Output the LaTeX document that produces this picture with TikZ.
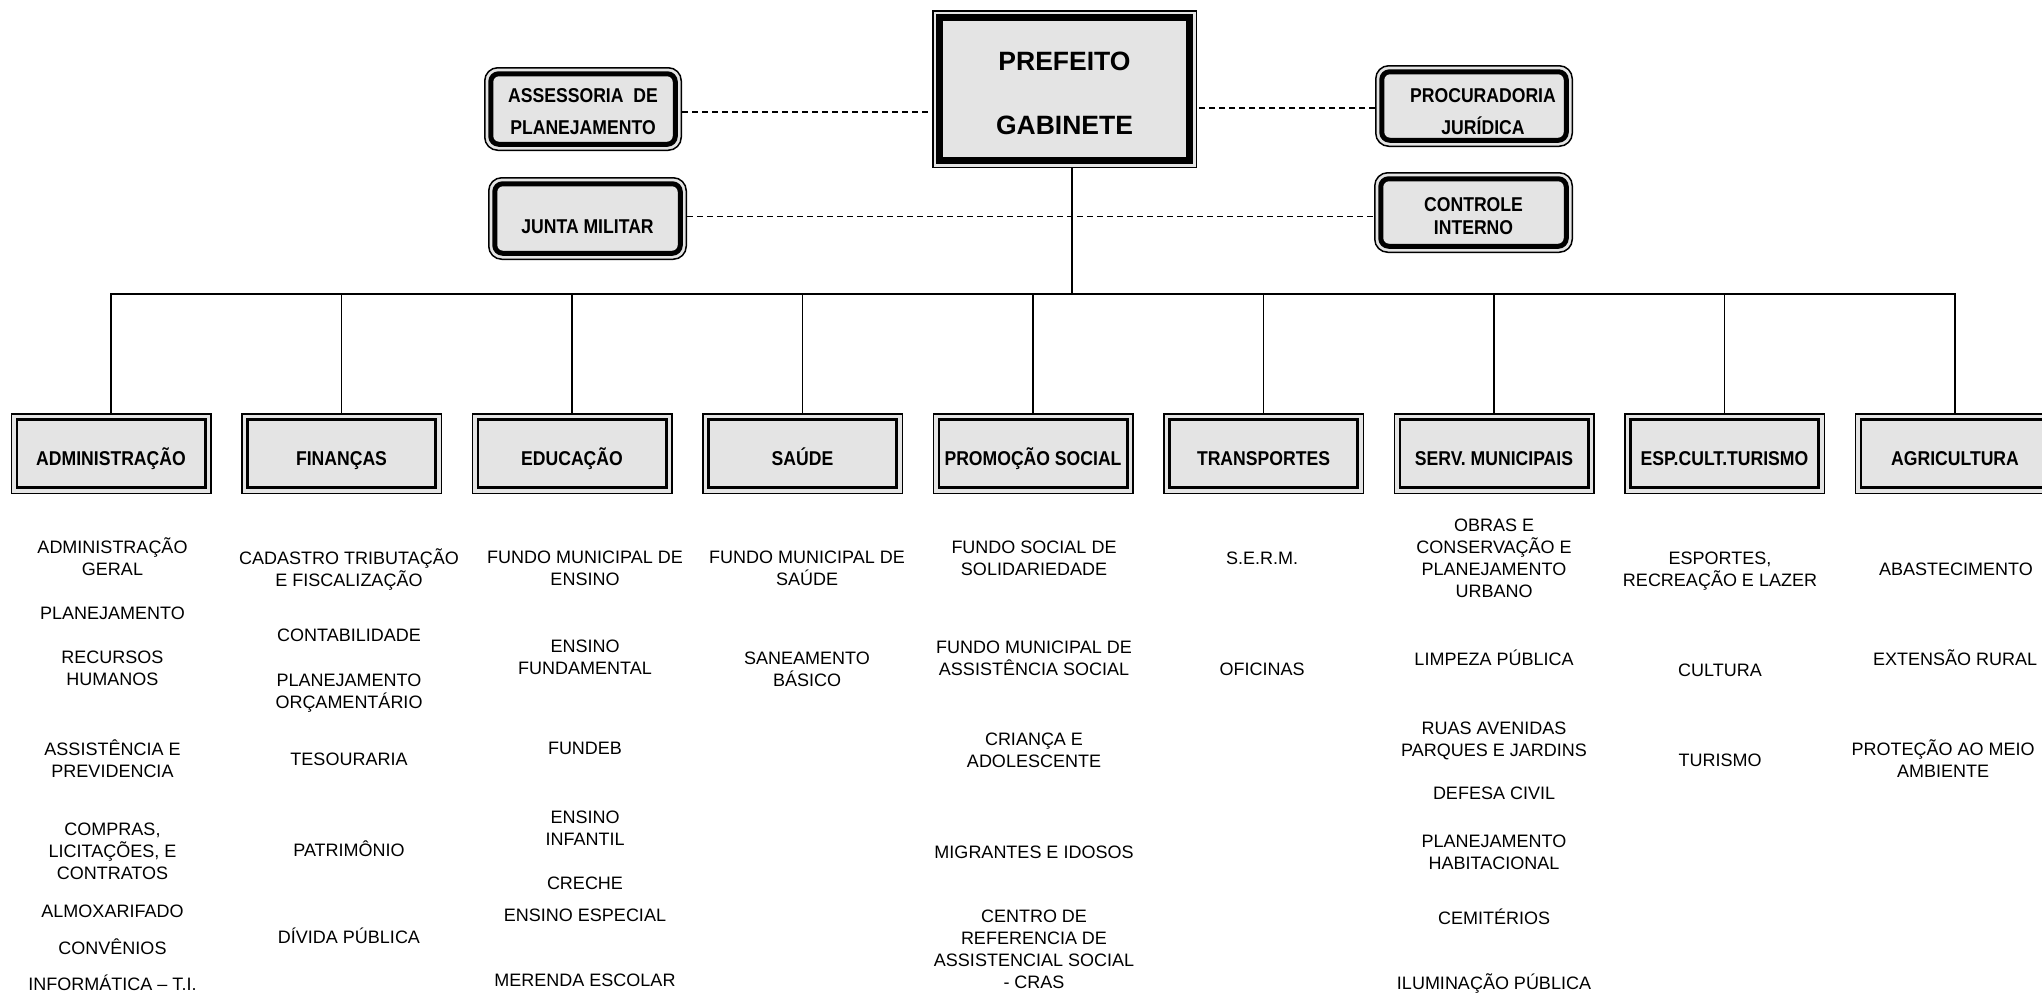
\documentclass[tikz,border=0pt]{standalone}
\usepackage{fontspec}
\setmainfont{Liberation Sans}
\newfontfamily\tfont[FakeStretch=0.88]{Liberation Sans}
\usetikzlibrary{calc}
\definecolor{boxgray}{RGB}{228,228,228}
\lineskiplimit=-1000pt
\newcommand\st[2]{\rule[-#2pt]{0pt}{\dimexpr#1pt+#2pt\relax}}
\newcommand\sI{\st{19}{6.1}}
\newcommand\sD{\st{28}{4.7}}
\begin{document}
\begin{tikzpicture}[x=1pt,y=-1pt,
  conn/.style={line width=1.8pt},
  dsh/.style={line width=1.2pt, dash pattern=on 6pt off 4pt},
  deptbox/.style={draw, line width=1.5pt, fill=boxgray, minimum width=199.5pt,
    minimum height=79.5pt, inner sep=0pt,
    font={\tfont\bfseries\fontsize{20}{24}\selectfont},
    path picture={\draw[line width=2.7pt]
      ([shift={(5.6pt,5.6pt)}]path picture bounding box.south west) rectangle
      ([shift={(-5.6pt,-5.6pt)}]path picture bounding box.north east);}},
  rbox/.style={draw, line width=1.5pt, fill=boxgray, rounded corners=13pt,
    inner sep=0pt, align=center,
    path picture={\draw[line width=5pt, rounded corners=8pt]
      ([shift={(6pt,6pt)}]path picture bounding box.south west) rectangle
      ([shift={(-6pt,-6pt)}]path picture bounding box.north east);}},
  pbox/.style={draw, line width=1.5pt, fill=boxgray, inner sep=0pt, align=center,
    minimum width=263.5pt, minimum height=156.5pt,
    font={\bfseries\fontsize{26.5}{64}\selectfont},
    path picture={\draw[line width=6.5pt]
      ([shift={(6.6pt,6.6pt)}]path picture bounding box.south west) rectangle
      ([shift={(-6.6pt,-6.6pt)}]path picture bounding box.north east);}},
  item/.style={align=center, inner sep=0pt, font={\fontsize{18}{22}\selectfont}}
]
\useasboundingbox (0,0) rectangle (2042,993);
\fill[white] (0,0) rectangle (2042,993);
\clip (0,0) rectangle (2042,993);

% top boxes
\node[pbox] (pref) at (1064.5,89) {\st{30}{3}PREFEITO\\GABINETE\st{30}{3}};
\node[rbox, minimum width=196.5pt, minimum height=82.5pt,
  font={\tfont\bfseries\fontsize{20}{32}\selectfont}] (asse) at (583,109)
  {\st{24}{4.7}ASSESSORIA~~DE\\PLANEJAMENTO\st{24}{4.7}};
\node[rbox, minimum width=197.5pt, minimum height=81.5pt,
  font={\tfont\bfseries\fontsize{20}{32}\selectfont}] (junta) at (587.5,218.5)
  {\st{32}{2.7}JUNTA MILITAR};
\node[rbox, minimum width=196.5pt, minimum height=80.5pt,
  font={\tfont\bfseries\fontsize{20}{32}\selectfont}] (proc) at (1474,106)
  {\st{28}{3.7}\hspace*{18pt}PROCURADORIA\\\hspace*{18pt}JURÍDICA\st{28}{3.7}};
\node[rbox, minimum width=197.5pt, minimum height=79.5pt,
  font={\tfont\bfseries\fontsize{20}{23}\selectfont}] (ctrl) at (1473.5,212.5)
  {\st{26}{4.7}CONTROLE\\INTERNO\st{26}{4.7}};

% departments
\node[deptbox] (d1) at (111,453.5) {\sD ADMINISTRAÇÃO};
\node[deptbox] (d2) at (341.5,453.5) {\sD FINANÇAS};
\node[deptbox] (d3) at (572,453.5) {\sD EDUCAÇÃO};
\node[deptbox] (d4) at (802.5,453.5) {\sD SAÚDE};
\node[deptbox] (d5) at (1033,453.5) {\sD PROMOÇÃO SOCIAL};
\node[deptbox] (d6) at (1263.5,453.5) {\sD TRANSPORTES};
\node[deptbox] (d7) at (1494,453.5) {\sD SERV. MUNICIPAIS};
\node[deptbox] (d8) at (1724.5,453.5) {\sD ESP.CULT.TURISMO};
\node[deptbox] (d9) at (1955,453.5) {\sD AGRICULTURA};

% connectors
\coordinate (bus) at (1072,294);
\draw[conn] ([xshift=7.5pt]pref.south) -- (bus);
\draw[conn] (d1.north) |- (bus) -| (d9.north);
\foreach \d in {d2,d3,d4,d5,d6,d7,d8}
  \draw[conn] (\d.north) -- (\d.north |- bus);
\draw[dsh] ([yshift=-3pt]asse.east) -- ([yshift=-3pt]asse.east -| pref.west);
\draw[dsh] ([yshift=-2pt]proc.west) -- ([yshift=-2pt]proc.west -| pref.east);
\draw[dsh] ([yshift=2pt]junta.east) -- ([yshift=2pt]junta.east -| ctrl.west);

% column 1
\node[item] (a1) at (112.5,558) {\sI ADMINISTRAÇÃO\\GERAL\sI};
\node[item] (a2) at (112.5,613) {\sI PLANEJAMENTO\sI};
\node[item] (a3) at (112.5,668.5) {\sI RECURSOS\\HUMANOS\sI};
\node[item] (a4) at (112.5,760) {\sI ASSISTÊNCIA E\\PREVIDENCIA\sI};
\node[item] (a5) at (112.5,851) {\sI COMPRAS,\\LICITAÇÕES, E\\CONTRATOS\sI};
\node[item] (a6) at (112.5,911) {\sI ALMOXARIFADO\sI};
\node[item] (a7) at (112.5,948) {\sI CONVÊNIOS\sI};
\node[item] (a8) at (112.5,984) {\sI INFORMÁTICA – T.I.\sI};
% column 2
\node[item] (b1) at (349,569) {\sI CADASTRO TRIBUTAÇÃO\\E FISCALIZAÇÃO\sI};
\node[item] (b2) at (349,635) {\sI CONTABILIDADE\sI};
\node[item] (b3) at (349,691) {\sI PLANEJAMENTO\\ORÇAMENTÁRIO\sI};
\node[item] (b4) at (349,759) {\sI TESOURARIA\sI};
\node[item] (b5) at (349,850) {\sI PATRIMÔNIO\sI};
\node[item] (b6) at (349,937) {\sI DÍVIDA PÚBLICA\sI};
% column 3
\node[item] (c1) at (585,568.5) {\sI FUNDO MUNICIPAL DE\\ENSINO\sI};
\node[item] (c2) at (585,657.5) {\sI ENSINO\\FUNDAMENTAL\sI};
\node[item] (c3) at (585,748) {\sI FUNDEB\sI};
\node[item] (c4) at (585,828.5) {\sI ENSINO\\INFANTIL\sI};
\node[item] (c5) at (585,883) {\sI CRECHE\sI};
\node[item] (c6) at (585,915) {\sI ENSINO ESPECIAL\sI};
\node[item] (c7) at (585,980) {\sI MERENDA ESCOLAR\sI};
% column 4
\node[item] (e1) at (807,568.5) {\sI FUNDO MUNICIPAL DE\\SAÚDE\sI};
\node[item] (e2) at (807,669) {\sI SANEAMENTO\\BÁSICO\sI};
% column 5
\node[item] (f1) at (1034,558) {\sI FUNDO SOCIAL DE\\SOLIDARIEDADE\sI};
\node[item] (f2) at (1034,658) {\sI FUNDO MUNICIPAL DE\\ASSISTÊNCIA SOCIAL\sI};
\node[item] (f3) at (1034,750) {\sI CRIANÇA E\\ADOLESCENTE\sI};
\node[item] (f4) at (1034,852) {\sI MIGRANTES E IDOSOS\sI};
\node[item] (f5) at (1034,949) {\sI CENTRO DE\\REFERENCIA DE\\ASSISTENCIAL SOCIAL\\- CRAS\sI};
% column 6
\node[item] (g1) at (1262,558) {\sI S.E.R.M.\sI};
\node[item] (g2) at (1262,669) {\sI OFICINAS\sI};
% column 7
\node[item] (h1) at (1494,558) {\sI OBRAS E\\CONSERVAÇÃO E\\PLANEJAMENTO\\URBANO\sI};
\node[item] (h2) at (1494,659) {\sI LIMPEZA PÚBLICA\sI};
\node[item] (h3) at (1494,739) {\sI RUAS AVENIDAS\\PARQUES E JARDINS\sI};
\node[item] (h4) at (1494,793) {\sI DEFESA CIVIL\sI};
\node[item] (h5) at (1494,852) {\sI PLANEJAMENTO\\HABITACIONAL\sI};
\node[item] (h6) at (1494,918) {\sI CEMITÉRIOS\sI};
\node[item] (h7) at (1494,983) {\sI ILUMINAÇÃO PÚBLICA\sI};
% column 8
\node[item] (k1) at (1720,569) {\sI ESPORTES,\\RECREAÇÃO E LAZER\sI};
\node[item] (k2) at (1720,670) {\sI CULTURA\sI};
\node[item] (k3) at (1720,760) {\sI TURISMO\sI};
% column 9
\node[item] (m1) at (1956,569) {\sI ABASTECIMENTO\sI};
\node[item] (m2) at (1955,659) {\sI EXTENSÃO RURAL\sI};
\node[item] (m3) at (1943,760) {\sI PROTEÇÃO AO MEIO\\AMBIENTE\sI};
\end{tikzpicture}
\end{document}
